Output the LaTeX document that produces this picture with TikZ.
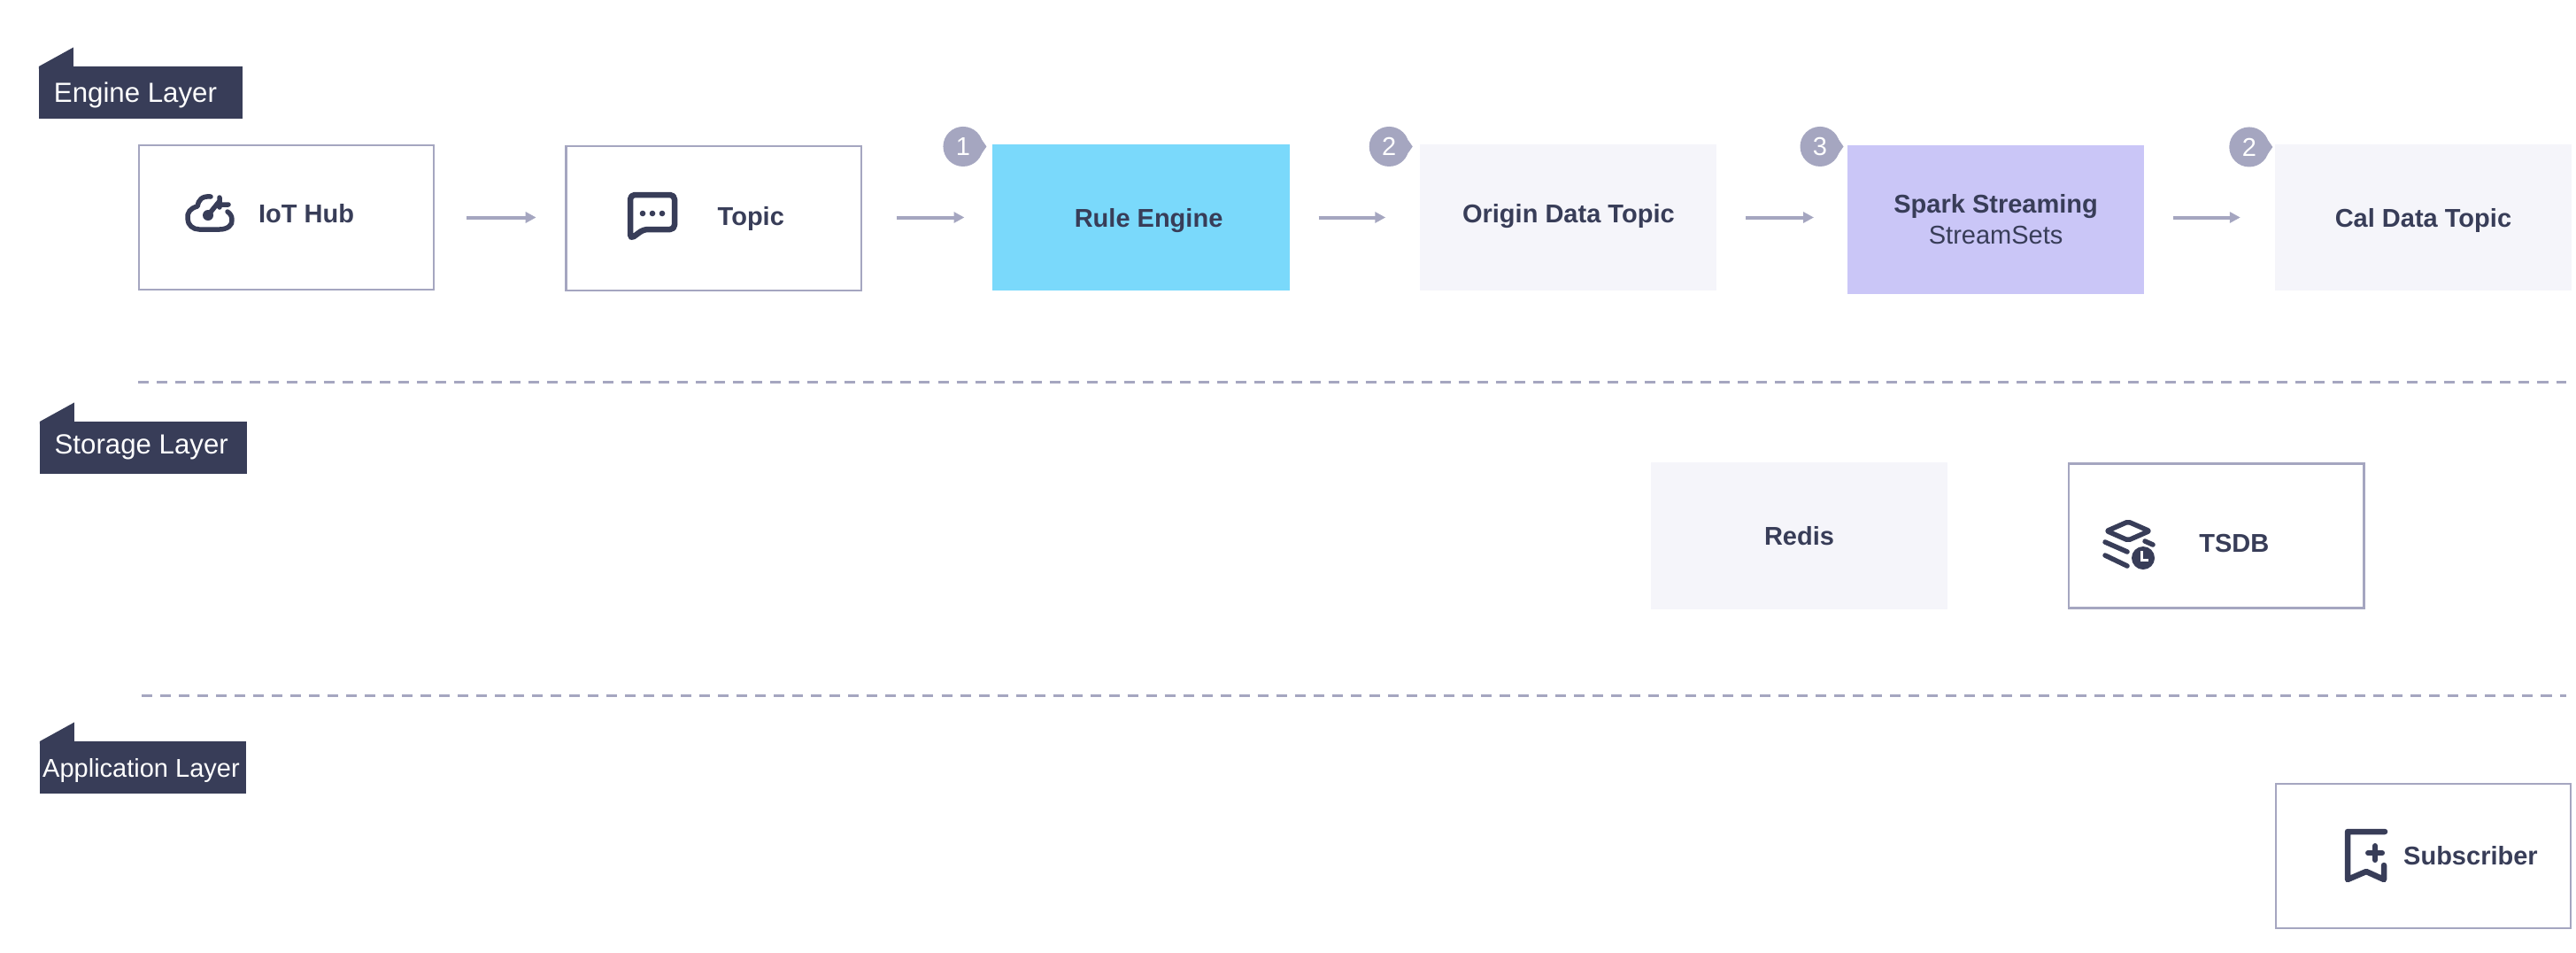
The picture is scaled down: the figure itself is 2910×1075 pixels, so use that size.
\documentclass[tikz,border=0pt]{standalone}
\usepackage{fontspec}
\setmainfont{Liberation Sans}
\usetikzlibrary{arrows.meta}

\definecolor{inkblue}{HTML}{383D58}
\definecolor{linegrey}{HTML}{A5A6C0}
\definecolor{palegrey}{HTML}{F5F5FA}
\definecolor{skyblue}{HTML}{7AD9FB}
\definecolor{lilac}{HTML}{CAC6F7}

\tikzset{
    basedrop/.style={text height=#1,text depth=0pt},
    textshift/.style={execute at begin node={\hspace*{#1}}},
    framebox/.style={draw=linegrey,line width=.024cm,fill=white,minimum width=3.33cm,minimum height=1.63cm,inner sep=0pt,outer sep=0pt,text=inkblue,font=\fontsize{8.25pt}{.35cm}\selectfont\bfseries},
    fillbox/.style={minimum width=3.35cm,minimum height=1.65cm,inner sep=0pt,outer sep=0pt,text=inkblue,font=\fontsize{8.25pt}{.35cm}\selectfont\bfseries},
    layertag/.style={fill=inkblue,minimum height=.59cm,inner sep=0pt,outer sep=0pt,text=white,font=\fontsize{8.88pt}{10pt}\selectfont},
    badge/.style={circle,fill=linegrey,minimum size=.45cm,inner sep=0pt,outer sep=0pt,text=white,font=\fontsize{8.25pt}{10pt}\selectfont},
    sepline/.style={draw=linegrey,line width=.03cm,dash pattern=on .12cm off .09cm},
    iconline/.style={draw=inkblue,line width=.055cm,line cap=round,line join=round}
}

\begin{document}
\begin{tikzpicture}[x=.01cm,y=-.01cm,->,>={Triangle[length=3.4pt,width=3.4pt]},node distance=4.825cm]
            \useasboundingbox (0,0) rectangle (2910,1075);

            % layer tags
            \node[layertag,minimum width=2.30cm,basedrop=.21cm,textshift=-.12cm] (enginetag) at (159,104.5) {Engine Layer};
            \node[layertag,minimum width=2.335cm,basedrop=.136cm,textshift=-.04cm] (storagetag) at (161.75,505.5) {Storage Layer};
            \node[layertag,minimum width=2.33cm,basedrop=.224cm,textshift=-.04cm,font=\fontsize{8.25pt}{10pt}\selectfont] (apptag) at (161.5,866.5) {Application Layer};
            \foreach \t in {enginetag,storagetag,apptag}
                \fill[inkblue,-] ([yshift=-.03cm]\t.north west) -- (\t.north west) -- ([xshift=.39cm,yshift=.215cm]\t.north west) -- ([xshift=.39cm,yshift=-.03cm]\t.north west) -- cycle;

            % engine layer
            \node[framebox,basedrop=.11cm,textshift=.45cm] (hub) at (323.5,245.5) {IoT Hub};
            \node[framebox,basedrop=.15cm,textshift=.84cm] (topic) [right of = hub, yshift = -.01cm] {Topic};
            \node[fillbox,fill=skyblue,basedrop=.21cm,textshift=.17cm] (rule) [right of = topic, yshift = .01cm] {Rule Engine};
            \node[fillbox,fill=palegrey,basedrop=.11cm] (origin) [right of = rule] {Origin Data Topic};
            \node[fillbox,fill=lilac,minimum height=1.68cm,align=center] (spark) [right of = origin, yshift = -.025cm] {Spark Streaming\\\mdseries StreamSets};
            \node[fillbox,fill=palegrey,basedrop=.21cm] (cal) [right of = spark, yshift = .025cm] {Cal Data Topic};

            % storage layer
            \node[fillbox,fill=palegrey,basedrop=.20cm] (redis) at (2032.5,605) {Redis};
            \node[framebox,basedrop=.37cm,textshift=.40cm] (tsdb) [right of = redis, node distance = 4.71cm] {TSDB};

            % application layer
            \node[framebox,basedrop=.20cm,textshift=1.07cm] (subscriber) [below of = cal, node distance = 7.205cm] {Subscriber};

            % step badges
            \node[badge] (stepa) at ([xshift=-.335cm,yshift=-.025cm]rule.north west) {1};
            \node[badge] (stepb) at ([xshift=-.35cm,yshift=-.025cm]origin.north west) {2};
            \node[badge] (stepc) at ([xshift=-.31cm,yshift=-.015cm]spark.north west) {3};
            \node[badge] (stepd) at ([xshift=-.29cm,yshift=-.03cm]cal.north west) {2};
            \foreach \s in {stepa,stepb,stepc,stepd}
                \fill[linegrey,-] (\s.20) -- ([xshift=.04cm]\s.east) -- (\s.-20) -- cycle;

            \path[every edge/.style={draw=linegrey,line width=.04cm}]
                (hub.east) edge[shorten <=.37cm,shorten >=.34cm] (hub.east -| topic.west)
                (rule.west -| topic.east) edge[shorten <=.40cm,shorten >=.32cm] (rule.west)
                (rule.east) edge[shorten <=.33cm,shorten >=.39cm] (origin.west)
                (origin.east) edge[shorten <=.33cm,shorten >=.38cm] (origin.east -| spark.west)
                (cal.west -| spark.east) edge[shorten <=.33cm,shorten >=.39cm] (cal.west)
                ;

            % layer separators
            \coordinate (sepaleft) at (156,431);
            \coordinate (separight) at (2899,431);
            \coordinate (sepbleft) at (160,785);
            \coordinate (sepbright) at (2899,785);
            \draw[sepline,-] (sepaleft) -- (separight);
            \draw[sepline,-] (sepbleft) -- (sepbright);

            % icons
            \draw[iconline,-] (238,222) .. controls (228,221) and (224,226) .. (223,233) .. controls (215,235) and (211,240) .. (212,247) .. controls (212,254) and (218,259) .. (225,259) -- (248,259) .. controls (257,259) and (263,254) .. (262,248) .. controls (262,244) and (260,241) .. (257,239);
            \draw[iconline,-] (235,243) -- (248,227) (248,223) -- (248,234) (248,231) -- (258,231);
            \fill[inkblue] (235,243) circle (.06cm);

            \draw[iconline,-,line width=.065cm,rounded corners=.05cm] (712,270) -- (712,220) -- (762,220) -- (762,259) -- (727,259) -- cycle;
            \foreach \x in {726,737,748}
                \fill[inkblue] (\x,241) circle (.033cm);

            \draw[iconline,-,rounded corners=.02cm] (2404,589) -- (2428,599.5) -- (2404,610) -- (2380,599.5) -- cycle;
            \draw[iconline,-] (2378,612) -- (2403,623) (2423,611) -- (2432,615) (2378,627) -- (2403,639);
            \fill[inkblue] (2421,630) circle (.13cm);
            \draw[white,line width=.03cm,-] (2419,622) -- (2419,632) -- (2427,632);

            \draw[iconline,-,line width=.065cm] (2694,939) -- (2652,939) -- (2652,993) -- (2673,984) -- (2693,993) -- (2693,977);
            \draw[iconline,-,line width=.06cm] (2675,963) -- (2691,963) (2683,955) -- (2683,971);
\end{tikzpicture}
\end{document}
